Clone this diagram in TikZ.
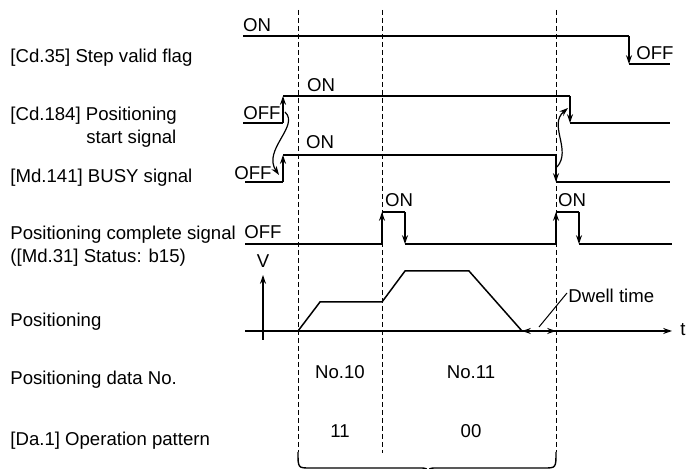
\documentclass[tikz,border=0pt]{standalone}
\usepackage{fontspec}
\setmainfont{Liberation Sans}
\usetikzlibrary{arrows.meta}

\begin{document}
\begin{tikzpicture}[x=0.5pt, y=-0.5pt, font=\fontsize{9.3}{11}\selectfont,
  sig/.style={line width=0.75pt},
  edge/.style={line width=0.75pt, -{Stealth[length=4.4pt, width=3pt]}},
  link/.style={line width=0.6pt, -{Stealth[length=4.4pt, width=3pt]}},
  guide/.style={line width=0.5pt, dash pattern=on 2.6pt off 1.4pt},
  lbl/.style={anchor=base west, inner sep=0pt},
  val/.style={anchor=base, inner sep=0pt}]
  \useasboundingbox (0,0) rectangle (686,469);
  % Signal names (left column)
  \foreach \n/\x/\y/\t in {%
    stepflag/10/63/{[Cd.35] Step valid flag},
    startsig/10/121/{[Cd.184] Positioning},
    startsigb/86/144/{start signal},
    busysig/10/183/{[Md.141] BUSY signal},
    cmplsig/10/240/{Positioning complete signal},
    cmplsigb/10/263/{([Md.31] Status: b15)},
    posn/10/327/{Positioning},
    datano/10/385/{Positioning data No.},
    oppat/10/446/{[Da.1] Operation pattern}%
  }{
    \node[lbl] (\n) at (\x,\y) {\t};
  }
  % Timing guides (dashed)
  \foreach \x/\y in {298/452, 382/453, 556/452}
    \draw[guide] (\x,10) -- (\x,\y);
  % [Cd.35] Step valid flag
  \draw[sig] (243,36) -- (629,36);
  \draw[edge] (629,36) -- (629,64);
  \draw[sig] (629,64) -- (670,64);
  \node[val] (stepon) at (257,32) {ON};
  \node[val] (stepoff) at (655,60) {OFF};
  % [Cd.184] Positioning start signal
  \draw[sig] (243,123) -- (283,123);
  \draw[edge] (283,123) -- (283,96);
  \draw[sig] (283,96) -- (570,96);
  \draw[edge] (570,96) -- (570,123);
  \draw[sig] (570,123) -- (670,123);
  \node[val] (starton) at (321,92) {ON};
  \node[val] (startoff) at (262,120) {OFF};
  % [Md.141] BUSY signal
  \draw[sig] (245,182) -- (283,182);
  \draw[edge] (283,182) -- (283,155);
  \draw[sig] (283,155) -- (556,155);
  \draw[edge] (556,155) -- (556,182);
  \draw[sig] (556,182) -- (670,182);
  \node[val] (busyon) at (320,149) {ON};
  \node[val] (busyoff) at (253,180) {OFF};
  % Start -> BUSY and BUSY -> start
  \coordinate (startrise) at (285,112);
  \coordinate (busyrise) at (279,175);
  \coordinate (busyfall) at (557,167);
  \coordinate (startfall) at (568,108);
  \draw[link] (startrise) .. controls (300,126) and (262,150) .. (busyrise);
  \draw[link] (busyfall) .. controls (572,150) and (548,125) .. (startfall);
  % Positioning complete signal
  \draw[sig] (245,244) -- (382,244);
  \foreach \a/\b in {382/405, 556/579}{
    \draw[edge] (\a,244) -- (\a,212);
    \draw[sig] (\a,212) -- (\b,212);
    \draw[edge] (\b,212) -- (\b,244);
  }
  \draw[sig] (405,244) -- (556,244);
  \draw[sig] (579,244) -- (672,244);
  \node[val] (cmploff) at (263,239) {OFF};
  \node[val] (cmplona) at (399,207) {ON};
  \node[val] (cmplonb) at (572,207) {ON};
  % Positioning (speed over time)
  \draw[edge] (263,340) -- (263,275);
  \draw[edge] (245,331) -- (672,331);
  \node[val] (vaxis) at (263,268) {V};
  \node[lbl] (taxis) at (680,336) {t};
  \draw[sig] (298,331) -- (320,302) -- (382,302) -- (405,271)
    -- (469,271) -- (522,331);
  \draw[line width=0.75pt, {Stealth[length=4.4pt, width=3pt]}-{Stealth[length=4.4pt, width=3pt]}]
    (522,331) -- (556,331);
  \node[lbl] (dwell) at (568,303) {Dwell time};
  \draw[line width=0.5pt] (539,327) -- (567,293);
  % Data No. and operation pattern
  \node[val] (datatena) at (340,379) {No.10};
  \node[val] (dataelev) at (471,379) {No.11};
  \node[val] (pata) at (340,438) {11};
  \node[val] (patb) at (471,438) {00};
  % Brace
  \draw[line width=0.7pt] (298,452) .. controls (298,468) .. (310,468) -- (419,468)
    .. controls (427,468) .. (428,474);
  \draw[line width=0.7pt] (556,452) .. controls (556,468) .. (544,468) -- (437,468)
    .. controls (429,468) .. (428,474);
\end{tikzpicture}
\end{document}
